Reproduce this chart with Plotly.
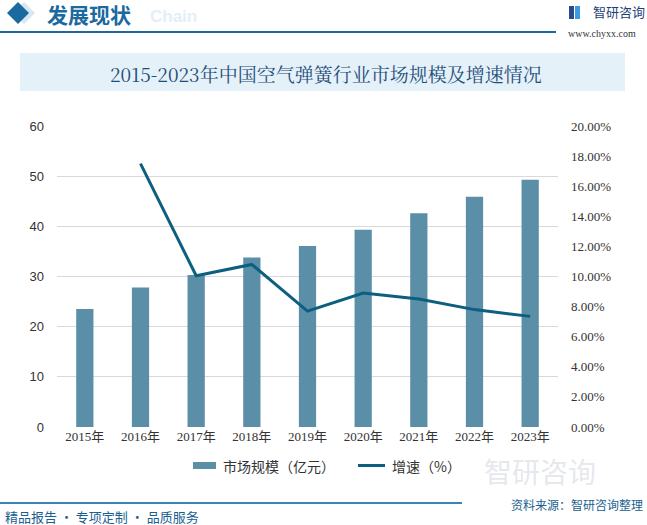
import plotly.graph_objects as go

years = ["2015年", "2016年", "2017年", "2018年", "2019年", "2020年", "2021年", "2022年", "2023年"]
market_size = [23.5, 27.8, 30.3, 33.8, 36.1, 39.3, 42.6, 45.9, 49.3]
growth = [None, 17.5, 10.05, 10.8, 7.7, 8.9, 8.5, 7.8, 7.35]
left_ticks = [0, 10, 20, 30, 40, 50, 60]
right_ticks = [0, 2, 4, 6, 8, 10, 12, 14, 16, 18, 20]
right_labels = [f"{v:.2f}%" for v in right_ticks]
series_names = ["市场规模（亿元）", "增速（%）"]

BAR_C = "#5b8fa7"
LINE_C = "#0d5f80"
CJK = "Noto Sans CJK SC"
SERIF = "Liberation Serif, Noto Sans CJK SC"

W, H = 647, 525
L, R, T, B = 57, 89, 126, 98
pw, ph = W - L - R, H - T - B


def xp(x):
    return (x - L) / pw


def yp(y):
    return (H - B - y) / ph


fig = go.Figure()
fig.add_trace(go.Bar(x=years, y=market_size, name=series_names[0],
                     marker=dict(color=BAR_C, line=dict(width=0)), yaxis="y"))
fig.add_trace(go.Scatter(x=years, y=growth, name=series_names[1], mode="lines",
                         line=dict(color=LINE_C, width=3), yaxis="y2"))

fig.update_layout(
    width=W, height=H,
    margin=dict(l=L, r=R, t=T, b=B),
    paper_bgcolor="white", plot_bgcolor="white",
    bargap=0.69,
    showlegend=False,
    xaxis=dict(type="category", showgrid=False, showline=False, ticks="",
               tickfont=dict(family=SERIF, size=13, color="#333")),
    yaxis=dict(range=[0, 60], tickvals=left_ticks, showgrid=True, gridcolor="#d9d9d9",
               gridwidth=1, zeroline=False, showline=False, ticks="",
               tickfont=dict(family="Liberation Sans, Arial", size=13, color="#333"),
               ticklabelstandoff=12),
    yaxis2=dict(range=[0, 20], tickvals=right_ticks, ticktext=right_labels, overlaying="y",
                side="right", showgrid=False, zeroline=False, showline=False, ticks="",
                tickfont=dict(family=SERIF, size=13, color="#333"), ticklabelstandoff=12),
)

shapes = [
    dict(type="rect", xref="paper", yref="paper", x0=xp(20), x1=xp(625), y0=yp(91), y1=yp(53),
         fillcolor="#e5f1f9", line=dict(width=0), layer="below"),
    dict(type="line", xref="paper", yref="paper", x0=xp(0), x1=xp(556), y0=yp(32), y1=yp(32),
         line=dict(color="#1a6aa0", width=2)),
    dict(type="line", xref="paper", yref="paper", x0=xp(0), x1=xp(462), y0=yp(503), y1=yp(503),
         line=dict(color="#3a85b8", width=2)),
    dict(type="path", xref="paper", yref="paper",
         path=f"M {xp(24)} {yp(2)} L {xp(35)} {yp(13)} L {xp(24)} {yp(24)} L {xp(13)} {yp(13)} Z",
         fillcolor="#d7e8f4", line=dict(width=0)),
    dict(type="path", xref="paper", yref="paper",
         path=f"M {xp(18)} {yp(2)} L {xp(29)} {yp(13)} L {xp(18)} {yp(24)} L {xp(7)} {yp(13)} Z",
         fillcolor="#1a6aa0", line=dict(width=0)),
    dict(type="rect", xref="paper", yref="paper", x0=xp(569), x1=xp(574), y0=yp(19), y1=yp(6),
         fillcolor="#2b4a8c", line=dict(width=0)),
    dict(type="rect", xref="paper", yref="paper", x0=xp(575), x1=xp(580), y0=yp(19), y1=yp(6),
         fillcolor="#3b9be0", line=dict(width=0)),
    # legend swatches
    dict(type="rect", xref="paper", yref="paper", x0=xp(193), x1=xp(216), y0=yp(469), y1=yp(462),
         fillcolor=BAR_C, line=dict(width=0)),
    dict(type="line", xref="paper", yref="paper", x0=xp(358), x1=xp(385), y0=yp(465.5), y1=yp(465.5),
         line=dict(color=LINE_C, width=3)),
]
fig.update_layout(shapes=shapes)

ann = [
    dict(text="2015-2023年中国空气弹簧行业市场规模及增速情况", x=xp(326), y=yp(73),
         font=dict(family="Noto Serif CJK SC, " + CJK, size=19, color="#1f4e79")),
    dict(text="<b>Chain</b>", x=xp(148), y=yp(16), xanchor="left",
         font=dict(family="Liberation Sans, Arial", size=17, color="#e3eff8")),
    dict(text="<b>发展现状</b>", x=xp(45), y=yp(14), xanchor="left",
         font=dict(family=CJK, size=21, color="#1a6aa0")),
    dict(text="智研咨询", x=xp(591), y=yp(12), xanchor="left",
         font=dict(family=CJK, size=13, color="#1f3f7a")),
    dict(text="www.chyxx.com", x=xp(566), y=yp(33), xanchor="left",
         font=dict(family="Liberation Serif", size=10, color="#333")),
    dict(text="智研咨询", x=xp(482), y=yp(471), xanchor="left",
         font=dict(family=CJK, size=28, color="rgba(190,196,206,0.4)")),
    dict(text="资料来源：智研咨询整理", x=xp(645), y=yp(504), xanchor="right",
         font=dict(family=CJK, size=12, color="#1a5f8f")),
    dict(text="精品报告 · 专项定制 · 品质服务", x=xp(3), y=yp(516), xanchor="left",
         font=dict(family=CJK, size=13, color="#1a5f8f")),
    dict(text=series_names[0], x=xp(221), y=yp(466), xanchor="left",
         font=dict(family=CJK, size=14, color="#333")),
    dict(text=series_names[1], x=xp(390), y=yp(466), xanchor="left",
         font=dict(family=CJK, size=14, color="#333")),
]
for a in ann:
    a.update(xref="paper", yref="paper", showarrow=False, yanchor="middle")
    a.setdefault("xanchor", "center")
fig.update_layout(annotations=ann)

fig.write_html("out.html", config={"displayModeBar": False},
               post_script="document.body.style.margin='0';")
